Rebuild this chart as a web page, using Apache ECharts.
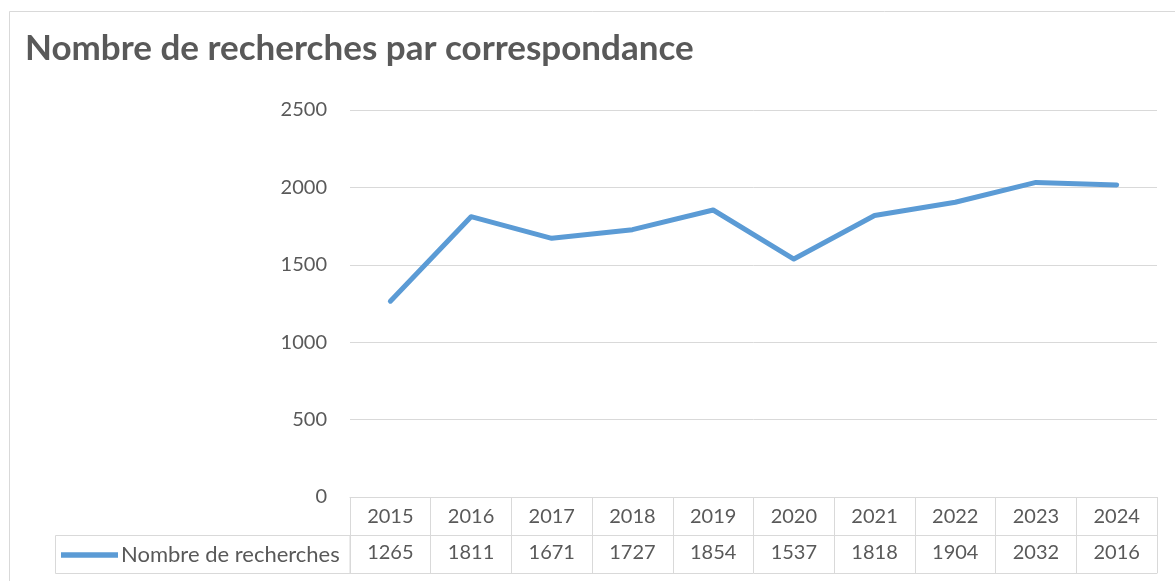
<!DOCTYPE html>
<html>
<head>
<meta charset="utf-8">
<script src="https://cdn.jsdelivr.net/npm/echarts@6/dist/echarts.min.js"></script>
<style>
  html, body { margin: 0; padding: 0; background: #ffffff; }
  #chart { width: 1175px; height: 581px; }
</style>
</head>
<body>
<div id="chart"></div>
<script>
const titleText = 'Nombre de recherches par correspondance';
const seriesName = 'Nombre de recherches';
const categories = ['2015', '2016', '2017', '2018', '2019', '2020', '2021', '2022', '2023', '2024'];
const values = [1265, 1811, 1671, 1727, 1854, 1537, 1818, 1904, 2032, 2016];
const yTicks = { min: 0, max: 2500, interval: 500 };

const textColor = '#595959';
const gridColor = '#d9d9d9';
const fontFamily = 'Lato, "Open Sans", sans-serif';

const chart = echarts.init(document.getElementById('chart'));
chart.setOption({
  animation: false,
  backgroundColor: '#ffffff',
  textStyle: { fontFamily: fontFamily, color: textColor },
  title: {
    text: titleText,
    left: 20,
    top: 26,
    textStyle: { fontFamily: fontFamily, fontSize: 35, fontWeight: 'bold', color: textColor }
  },
  legend: {
    left: 56,
    top: 539,
    itemWidth: 57,
    itemHeight: 14,
    itemGap: 0,
    textStyle: { fontFamily: fontFamily, fontSize: 22, color: textColor, padding: [0, 0, 0, -2] },
    data: [{ name: seriesName, icon: 'path://M0,0 L10,0 L10,1 L0,1 Z' }]
  },
  grid: { left: 350, right: 18, top: 110, bottom: 84, containLabel: false },
  xAxis: [
    {
      type: 'category',
      data: categories,
      boundaryGap: true,
      position: 'bottom',
      axisLine: { show: true, lineStyle: { color: gridColor, width: 1 } },
      axisTick: { show: true, length: 76, lineStyle: { color: gridColor, width: 1 } },
      axisLabel: { margin: 10, fontSize: 20, color: textColor, fontFamily: fontFamily }
    },
    {
      type: 'category',
      data: values.map(String),
      boundaryGap: true,
      position: 'bottom',
      offset: 38,
      axisLine: { show: true, lineStyle: { color: gridColor, width: 1 } },
      axisTick: { show: false },
      axisLabel: { margin: 8, fontSize: 20, color: textColor, fontFamily: fontFamily }
    },
    {
      type: 'category',
      data: categories,
      boundaryGap: true,
      position: 'bottom',
      offset: 76,
      axisLine: { show: true, lineStyle: { color: gridColor, width: 1 } },
      axisTick: { show: false },
      axisLabel: { show: false }
    }
  ],
  yAxis: {
    type: 'value',
    min: yTicks.min,
    max: yTicks.max,
    interval: yTicks.interval,
    axisLine: { show: false },
    axisTick: { show: false },
    axisLabel: {
      margin: 23, fontSize: 20, color: textColor, fontFamily: fontFamily,
      formatter: function (v) { return String(v); }
    },
    splitLine: { show: true, lineStyle: { color: gridColor, width: 1 } }
  },
  graphic: [
    {
      type: 'rect',
      shape: { x: 9.5, y: 11.5, width: 1300, height: 700 },
      style: { fill: 'none', stroke: gridColor, lineWidth: 1 },
      silent: true,
      z: -1
    },
    {
      type: 'rect',
      shape: { x: 55.5, y: 535.5, width: 294.5, height: 38 },
      style: { fill: 'none', stroke: gridColor, lineWidth: 1 },
      silent: true
    }
  ],
  series: [
    {
      name: seriesName,
      type: 'line',
      data: values,
      xAxisIndex: 0,
      symbol: 'none',
      lineStyle: { color: '#5b9bd5', width: 5, cap: 'round', join: 'round' },
      itemStyle: { color: '#5b9bd5' }
    }
  ]
});
</script>
</body>
</html>
